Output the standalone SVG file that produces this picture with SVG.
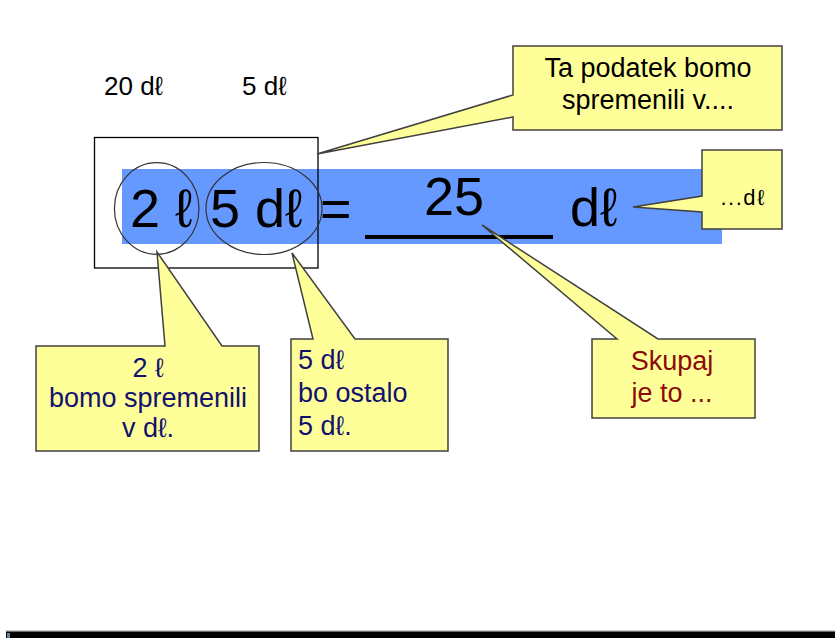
<svg xmlns="http://www.w3.org/2000/svg" width="835" height="638" viewBox="0 0 835 638">
<style>
text{font-family:"Liberation Sans",Arial,"DejaVu Sans",sans-serif;}
.big{font-size:54px;fill:#000;}
.lbl{font-size:26px;fill:#000;}
.call{fill:#FFFF99;stroke:#404040;stroke-width:1.5;stroke-linejoin:miter;}
.ct{font-size:27px;}
.navy{fill:#12126e;}
.red{fill:#8b0a0a;}
</style>
<rect width="835" height="638" fill="#fff"/>
<g id="band">
<rect x="122" y="169" width="600" height="75" fill="#6699FF"/>
</g>
<g id="labels">
<text class="lbl" x="104" y="95">20 dℓ</text>
<text class="lbl" x="242" y="95">5 dℓ</text>
</g>
<g id="equation">
<text class="big" x="130" y="227">2 ℓ</text>
<text class="big" x="210" y="227">5 dℓ</text>
<text class="big" x="320" y="227">=</text>
<rect x="365" y="235" width="188" height="4" fill="#000"/>
<text class="big" x="424" y="215">25</text>
<text class="big" x="570" y="226">dℓ</text>
</g>
<g id="frame">
<rect x="94.5" y="137.5" width="223.5" height="130.5" fill="none" stroke="#000" stroke-width="1.3"/>
<ellipse cx="156.7" cy="208.5" rx="42.3" ry="45.8" fill="none" stroke="#333" stroke-width="1.2"/>
<ellipse cx="264" cy="208.5" rx="58" ry="46" fill="none" stroke="#333" stroke-width="1.2"/>
</g>
<g id="connectors"></g>
<g id="callout-top">
<polygon class="call" points="513,46 782,46 782,130 513,130 513,117 317,154 513,95"/>
<text class="ct" x="648" y="77" text-anchor="middle" fill="#000">Ta podatek bomo</text>
<text class="ct" x="648" y="109" text-anchor="middle" fill="#000">spremenili v....</text>
</g>
<g id="callout-dl">
<polygon class="call" points="702,150 782,150 782,229 702,229 702,212 633,207 702,196"/>
<text x="743" y="205" text-anchor="middle" font-size="22" letter-spacing="1.5" fill="#000">...dℓ</text>
</g>
<g id="callout-2l">
<polygon class="call" points="36,346 165,346 157,252 222,346 259,346 259,451 36,451"/>
<text class="ct navy" x="148" y="377" text-anchor="middle">2 ℓ</text>
<text class="ct navy" x="148" y="407" text-anchor="middle">bomo spremenili</text>
<text class="ct navy" x="148" y="437" text-anchor="middle">v dℓ.</text>
</g>
<g id="callout-5dl">
<polygon class="call" points="291,339 313,339 292,253 355,339 448,339 448,451 291,451"/>
<text class="ct navy" x="298" y="369">5 dℓ</text>
<text class="ct navy" x="298" y="402">bo ostalo</text>
<text class="ct navy" x="298" y="435">5 dℓ.</text>
</g>
<g id="callout-skupaj">
<polygon class="call" points="592,339 617,339 482,225 658,339 755,339 755,418 592,418"/>
<text class="ct red" x="672" y="370" text-anchor="middle">Skupaj</text>
<text class="ct red" x="672" y="402" text-anchor="middle">je to ...</text>
</g>
<g id="bottom-bar">
<rect x="6" y="631" width="829" height="7" fill="#000"/>
<rect x="6" y="630.5" width="829" height="1.2" fill="#9a9a9a"/>
<rect x="7" y="633" width="3" height="5" fill="#7080a0"/>
</g>
</svg>
